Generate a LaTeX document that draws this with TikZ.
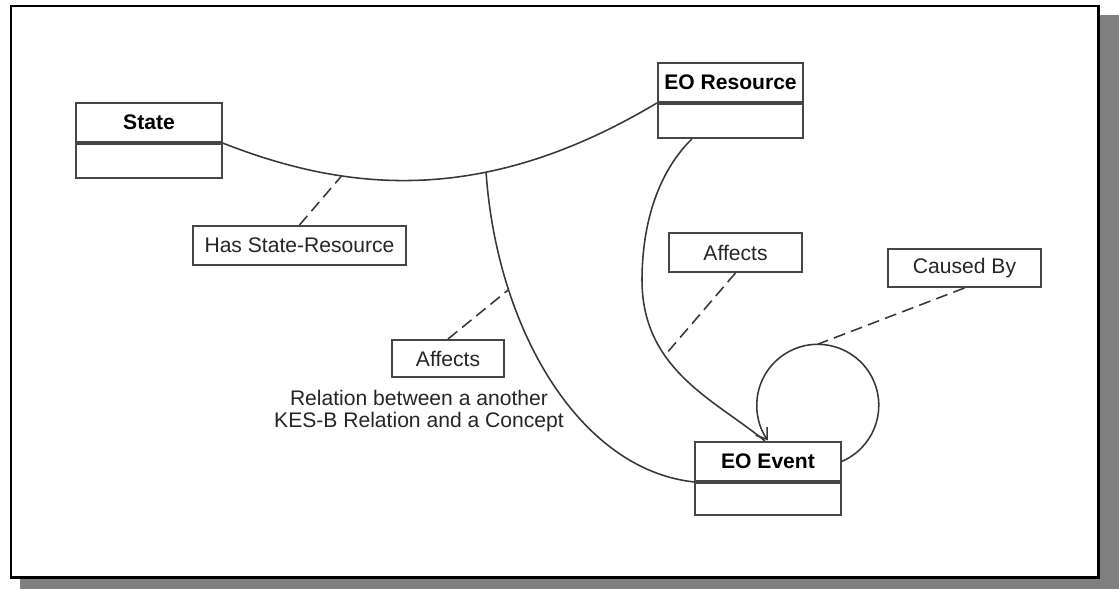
\documentclass[tikz,border=0pt]{standalone}
\usepackage{fontspec}
\setmainfont{Liberation Sans}
\usepackage{tikz}
\usetikzlibrary{shapes, arrows.meta, calc, positioning}
\definecolor{boxgray}{RGB}{70,70,70}
\definecolor{linegray}{RGB}{55,55,55}
\definecolor{shadowgray}{RGB}{128,128,128}

\tikzset{
  classname/.style={draw=boxgray, line width=1.4pt, minimum width=3.63cm,
    minimum height=0.975cm, inner sep=0pt, font=\bfseries},
  classbody/.style={draw=boxgray, line width=1.4pt, minimum width=3.63cm,
    minimum height=0.85cm, inner sep=0pt},
  relbox/.style={draw=boxgray, line width=1.4pt, minimum height=0.975cm,
    inner sep=0pt, text=black!85},
  assoc/.style={draw=linegray, line width=1.1pt},
  attach/.style={draw=linegray, line width=1.1pt, dash pattern=on 8.5pt off 4.5pt},
}

\begin{document}
\begin{tikzpicture}[x=0.025cm, y=0.025cm, >={Straight Barb[length=7pt,width=10pt]}]
\fontsize{15}{15.7}\selectfont
\useasboundingbox (0, 0) rectangle (1119, -589);
% frame with shadow
\fill[shadowgray] (20, -15) rectangle (1119, -589);
\draw[line width=2pt, fill=white] (11, -6) rectangle (1098.7, -577.3);

% classes
\node[classname] at (149, -122.5) (state) {State};
\node[classbody, below=0pt of state] (state-b) {};
\node[classname] at (730.5, -82.5) (res) {EO Resource};
\node[classbody, below=0pt of res] (res-b) {};
\node[classname] at (768, -461.5) (evt) {EO Event};
\node[classbody, below=0pt of evt, minimum height=0.8cm] (evt-b) {};

% relation labels
\node[relbox, minimum width=5.325cm] at (299.5, -245.5) (hsr) {Has State-Resource};
\node[relbox, minimum width=2.8cm, minimum height=0.925cm] at (448, -358.5) (affL) {Affects};
\node[relbox, minimum width=3.325cm] at (735.5, -252.5) (affR) {Affects};
\node[relbox, minimum width=3.825cm, minimum height=0.95cm] at (964.5, -268) (caused) {Caused By};
\node[align=center, text=black!85, inner sep=0pt] at (419, -411) (note)
    {Relation between a another\\KES-B Relation and a Concept};

% associations
\draw[assoc] (state.south east) .. controls (352, -194) and (488, -204) .. (res.south west)
    coordinate[pos=0.3] (hasAt) coordinate[pos=0.64] (affL0);
\draw[assoc] (affL0) .. controls (497, -330) and (580, -470) .. (evt.south west)
    coordinate[pos=0.26] (affLAt);
\draw[assoc] ($(res-b.south west)+(35, 0)$) .. controls (655, -175) and (642, -230) .. (642, -280)
    .. controls (642, -370) and (715, -400) .. ($(evt.north)+(-3, 0)$)
    coordinate[pos=0.35] (affRAt);
\draw[assoc, ->] (evt.east) arc[start angle=-67, end angle=215, radius=1.525cm];
\coordinate (loopTop) at ($(evt.east)+(-0.6cm, 2.93cm)$);

% links to relation labels
\draw[attach] (hsr.north) -- (hasAt);
\draw[attach] (affL.north) -- (affLAt);
\draw[attach] (affR.south) -- (affRAt);
\draw[attach] (caused.south) -- (loopTop);
\end{tikzpicture}
\end{document}
